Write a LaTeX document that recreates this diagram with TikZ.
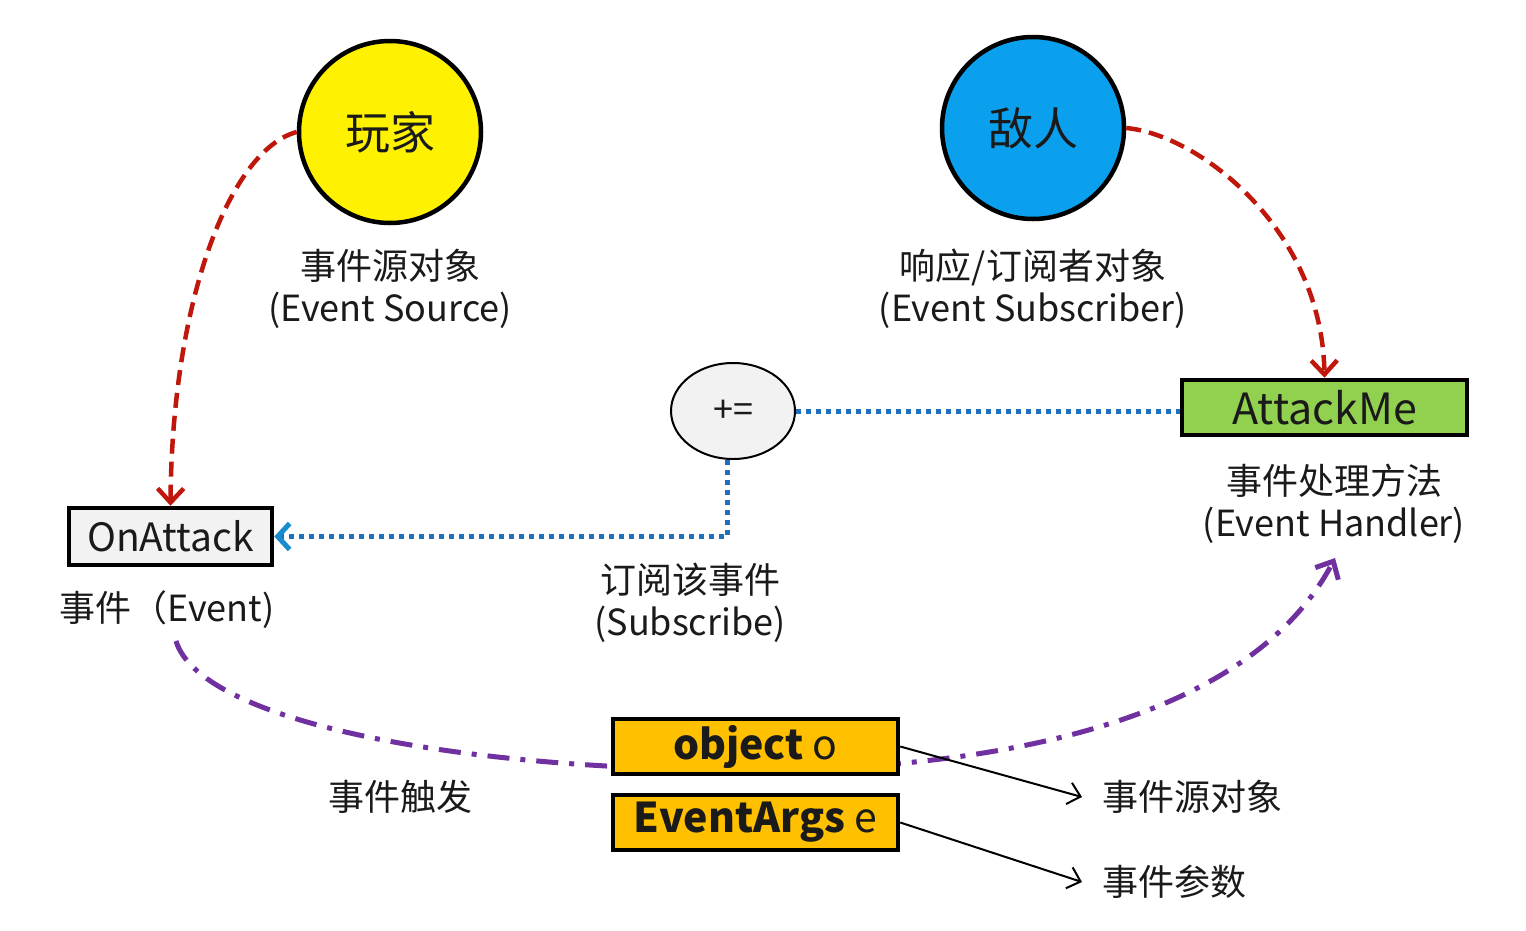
\documentclass[tikz,border=0pt]{standalone}
\usepackage{fontspec}
\setmainfont{Noto Sans CJK SC}
\usetikzlibrary{arrows.meta,shapes.geometric}
\definecolor{txt}{HTML}{1A1A1A}
\definecolor{cyel}{HTML}{FFF200}
\definecolor{cblue}{HTML}{0AA0EE}
\definecolor{cgreen}{HTML}{92D050}
\definecolor{corange}{HTML}{FFC000}
\definecolor{cgray}{HTML}{F2F2F2}
\definecolor{cred}{HTML}{C0170C}
\definecolor{cdot}{HTML}{1F6FBF}
\definecolor{cpurple}{HTML}{7030A0}
\tikzset{
  actor/.style={circle, draw=black, line width=4.5pt, minimum size=182pt, inner sep=0pt, font=\fontsize{45}{50}\selectfont, text=txt},
  box/.style={rectangle, draw=black, line width=4.5pt, inner sep=0pt, text=txt},
  lbl/.style={align=center, text=txt, font=\fontsize{36}{42}\selectfont, inner sep=0pt},
  reddash/.style={draw=cred, line width=4.5pt, dash pattern=on 15pt off 8pt, -{Straight Barb[length=14pt,width=26pt,line width=4.5pt]}},
  bluedot/.style={draw=cdot, line width=5pt, dash pattern=on 5pt off 5pt},
  purpdash/.style={draw=cpurple, line width=5pt, dash pattern=on 22pt off 11pt on 5pt off 11pt, -{Straight Barb[length=14pt,width=26pt,line width=5pt]}},
  blackarr/.style={draw=black, line width=2pt, -{Straight Barb[length=12pt,width=22pt,line width=2pt]}}
}
\begin{document}
\begin{tikzpicture}[x=1pt,y=-1pt]
\useasboundingbox[fill=white] (0,0) rectangle (1526,930);
% purple event-trigger curve (behind boxes)
\coordinate (pstart) at (176,641);
\coordinate (pmid) at (750,770);
\coordinate (pend) at (1335,558);
\draw[purpdash] (pstart) .. controls (200,720) and (450,770) .. (pmid)
  .. controls (1000,770) and (1250,720) .. (pend);

% actors
\node[actor, fill=cyel] (player) at (390,132) {玩家};
\node[actor, fill=cblue] (enemy) at (1033,128) {敌人};
\node[lbl] (srclbl) at (390,289) {事件源对象\\(Event Source)};
\node[lbl] (sublbl) at (1033,289) {响应/订阅者对象\\(Event Subscriber)};

% boxes
\node[box, fill=cgray, minimum width=203pt, minimum height=57pt, font=\fontsize{39}{40}\selectfont] (onattack) at (170.5,536.5) {OnAttack};
\node[box, fill=cgreen, minimum width=285pt, minimum height=55pt, font=\fontsize{43}{44}\selectfont] (attackme) at (1324.5,407.5) {AttackMe};
\node[ellipse, draw=black, line width=2pt, fill=cgray, minimum width=124pt, minimum height=96pt, inner sep=0pt, font=\fontsize{36}{38}\selectfont, text=txt] (plus) at (733,411) {+=};
\node[box, fill=corange, minimum width=285pt, minimum height=55pt, font=\fontsize{41}{42}\selectfont] (obj) at (755.5,746.5) {\textbf{object} o};
\node[box, fill=corange, minimum width=285pt, minimum height=55pt, font=\fontsize{41}{42}\selectfont] (args) at (755.5,822.5) {\textbf{EventArgs} e};

% labels
\node[lbl] (evlbl) at (167,610) {事件（Event)};
\node[lbl] (handlbl) at (1334,504) {事件处理方法\\(Event Handler)};
\node[lbl] (subslbl) at (690,603) {订阅该事件\\(Subscribe)};
\node[lbl] (firelbl) at (400,797) {事件触发};
\node[lbl, anchor=west] (objlbl) at (1102,797) {事件源对象};
\node[lbl, anchor=west] (argslbl) at (1102,882) {事件参数};

% connectors
\draw[reddash] (player.west) .. controls (230,150) and (172,300) .. (onattack.north);
\draw[reddash] (enemy.east) .. controls (1200,135) and (1322,230) .. (attackme.north);
\draw[bluedot] (plus.east) -- (plus.east -| attackme.west);
\draw[bluedot, -{Straight Barb[length=12pt,width=26pt,line width=5pt,color=cdot!80!cyan]}] ([xshift=-6pt]plus.south) |- (onattack.east);
\draw[blackarr] (obj.east) -- ([xshift=-20pt]objlbl.west);
\draw[blackarr] (args.east) -- ([xshift=-20pt]argslbl.west);
\end{tikzpicture}
\end{document}
